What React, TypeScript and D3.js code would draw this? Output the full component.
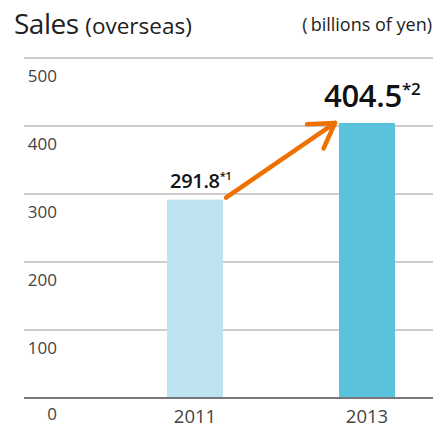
import React from "react";
import * as d3 from "d3";

const years = ["2011", "2013"];
const sales = [291.8, 404.5];
const valueLabels = ["291.8", "404.5"];
const notes = ["*1", "*2"];
const ticks = [0, 100, 200, 300, 400, 500];
const colors = ["#bee3f0", "#5bc2db"];

export default function App() {
  const W = 439, H = 427;
  const y = d3.scaleLinear().domain([0, 500]).range([398, 58]);
  const x = d3.scalePoint().domain(years).range([195, 367]);
  const bw = 56;
  const cx = (yr: string) => x(yr) as number;
  const font = "'Open Sans', sans-serif";

  const x0 = cx(years[0]) + 31, y0 = y(sales[0]) - 2;
  const x1 = cx(years[1]) - 32, y1 = y(sales[1]);
  const ang = Math.atan2(y1 - y0, x1 - x0);
  const hl = 28, ha = 0.55;
  const h1 = [x1 - hl * Math.cos(ang - ha), y1 - hl * Math.sin(ang - ha)];
  const h2 = [x1 - hl * Math.cos(ang + ha), y1 - hl * Math.sin(ang + ha)];

  return (
    <svg width={W} height={H} style={{ position: "absolute", left: 0, top: 0 }} fontFamily={font}>
      <text x={14} y={34} fontSize={28} fill="#222" letterSpacing={-0.5}>
        Sales <tspan fontSize={22.5} letterSpacing={0}>(overseas)</tspan>
      </text>
      <text x={432} y={31} fontSize={18} fill="#222" textAnchor="end">({"\u2009"}billions of yen)</text>
      {ticks.filter(t => t > 0).map(t => (
        <line key={t} x1={24} x2={433} y1={y(t)} y2={y(t)} stroke="#bbb" strokeWidth={1.5} />
      ))}
      {ticks.map(t => (
        <text key={"l" + t} x={57} y={y(t) + (t === 0 ? 22 : 24)} fontSize={17} fill="#444" textAnchor="end">{t}</text>
      ))}
      {years.map((yr, i) => (
        <rect key={yr} x={cx(yr) - bw / 2} y={y(sales[i])} width={bw} height={y(0) - y(sales[i])} fill={colors[i]} />
      ))}
      <line x1={24} x2={433} y1={y(0)} y2={y(0)} stroke="#777" strokeWidth={2} />
      {years.map(yr => (
        <text key={"y" + yr} x={cx(yr)} y={423} fontSize={18.5} fill="#444" textAnchor="middle">{yr}</text>
      ))}
      <text x={170} y={188} fontSize={20} fill="#111" fontWeight={600} letterSpacing={-0.3}>
        {valueLabels[0]}<tspan fontSize={11} dy={-8}>{notes[0]}</tspan>
      </text>
      <text x={324} y={107} fontSize={31} fill="#111" fontWeight={600} letterSpacing={-0.3}>
        {valueLabels[1]}<tspan fontSize={17} dy={-12}>{notes[1]}</tspan>
      </text>
      <g stroke="#ee7100" strokeWidth={4.5} fill="none" strokeLinecap="round" strokeLinejoin="round">
        <line x1={x0} y1={y0} x2={x1} y2={y1} />
        <polyline points={`${h1[0]},${h1[1]} ${x1},${y1} ${h2[0]},${h2[1]}`} />
      </g>
    </svg>
  );
}
